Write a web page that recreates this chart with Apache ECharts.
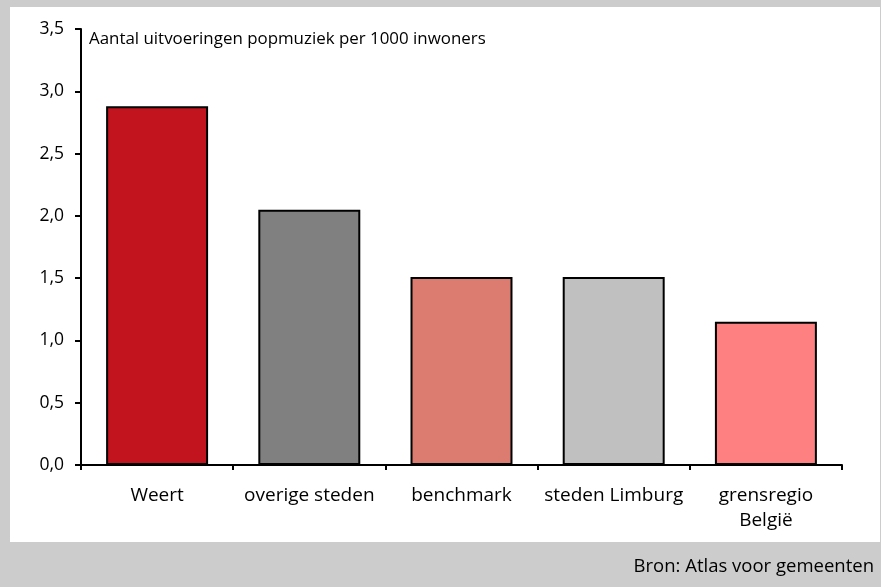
<!DOCTYPE html>
<html><head><meta charset="utf-8">
<script src="https://cdn.jsdelivr.net/npm/echarts@6/dist/echarts.min.js"></script>
<style>html,body{margin:0;padding:0;background:#cccccc}#c{width:881px;height:587px}</style>
</head><body><div id="c"></div>
<script>
const categories = ['Weert', 'overige steden', 'benchmark', 'steden Limburg', 'grensregio\nBelgië'];
const values = [2.88, 2.05, 1.51, 1.51, 1.15];
const barColors = ['#c1141e', '#808080', '#dc7b70', '#c0c0c0', '#ff8080'];
const yTicks = [0, 0.5, 1, 1.5, 2, 2.5, 3, 3.5];
const titleText = 'Aantal uitvoeringen popmuziek per 1000 inwoners';
const sourceText = 'Bron: Atlas voor gemeenten';

const font = '"Open Sans", "Noto Sans", sans-serif';
const chart = echarts.init(document.getElementById('c'), null, {renderer: 'canvas'});
chart.setOption({
  backgroundColor: '#cccccc',
  animation: false,
  graphic: [
    {type: 'rect', left: 10, top: 7, shape: {width: 870, height: 535}, style: {fill: '#ffffff'}, z: -10},
    {type: 'text', left: 89, top: 31, style: {text: titleText, font: '16.9px ' + font, fill: '#000'}},
    {type: 'text', right: 7, top: 557, style: {text: sourceText, font: '18.5px ' + font, fill: '#000'}}
  ],
  grid: {left: 81, right: 39, top: 29, bottom: 122, containLabel: false},
  xAxis: {
    type: 'category',
    data: categories,
    axisLine: {lineStyle: {color: '#000', width: 2}},
    axisTick: {show: true, length: 5, lineStyle: {color: '#000', width: 2}},
    axisLabel: {color: '#000', fontSize: 19, fontFamily: font, margin: 18, lineHeight: 25, interval: 0}
  },
  yAxis: {
    type: 'value',
    min: 0, max: 3.5, interval: 0.5,
    splitLine: {show: false},
    axisLine: {show: true, lineStyle: {color: '#000', width: 2}},
    axisTick: {show: true, length: 6, lineStyle: {color: '#000', width: 2}},
    axisLabel: {color: '#000', fontSize: 17.5, fontFamily: font, margin: 17,
      formatter: v => yTicks.includes(v) ? v.toFixed(1).replace('.', ',') : ''}
  },
  series: [{
    type: 'bar',
    data: values.map((v, i) => ({value: v, itemStyle: {color: barColors[i]}})),
    barCategoryGap: '33%',
    itemStyle: {borderColor: '#000', borderWidth: 2}
  }]
});
</script></body></html>
